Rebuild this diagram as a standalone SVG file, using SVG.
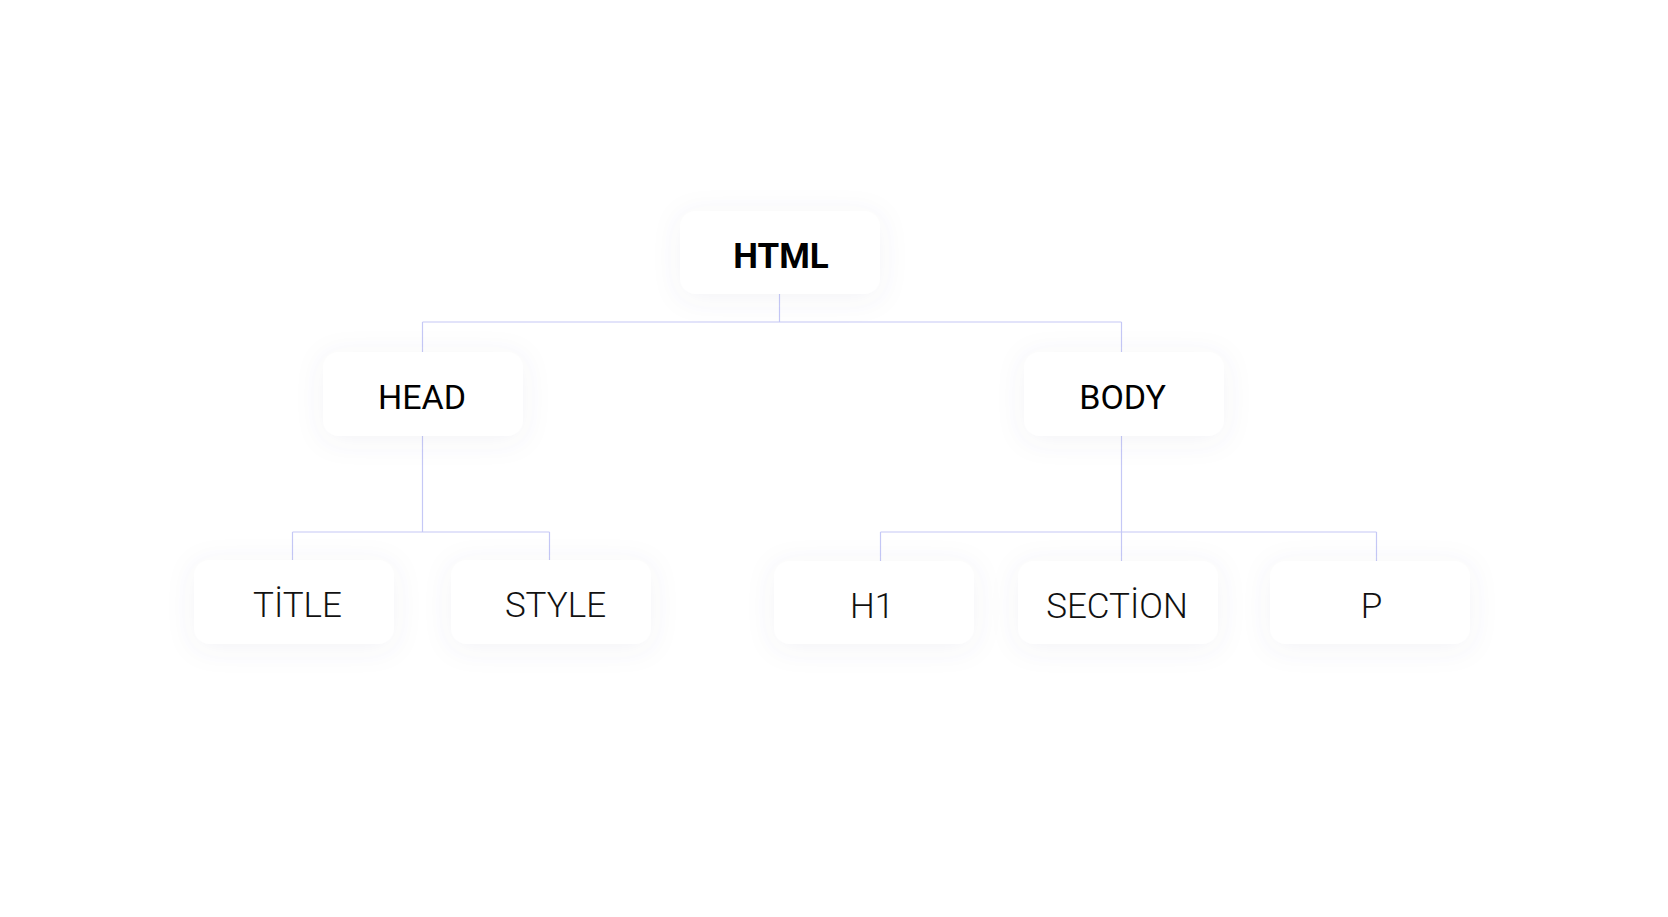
<svg xmlns="http://www.w3.org/2000/svg" width="1668" height="917" viewBox="0 0 1668 917">
<style>
.box{fill:#ffffff;filter:url(#sh);}
.lbl{font-family:Roboto,"Liberation Sans",sans-serif;fill:#000;text-anchor:middle;}
.b{font-weight:700;font-size:35px;}
.r{font-weight:400;font-size:34px;}
.l{font-family:"Roboto Light",Roboto,"Liberation Sans",sans-serif;font-weight:300;font-size:35px;fill:#111;}
.con{stroke:#c5c8f6;stroke-width:1.2;fill:none;}
</style>
<defs>
<filter id="sh" x="-30%" y="-40%" width="160%" height="180%">
<feDropShadow dx="0" dy="4" stdDeviation="14" flood-color="#5a6080" flood-opacity="0.07"/>
</filter>
</defs>
<rect width="1668" height="917" fill="#ffffff"/>
<g id="connectors">
<path class="con" d="M779.5 294 V322 M422.5 322 H1121.5 M422.5 322 V352 M1121.5 322 V352"/>
<path class="con" d="M422.5 436 V532 M292.5 532 H549.5 M292.5 532 V560 M549.5 532 V560"/>
<path class="con" d="M1121.5 436 V561 M880.5 532 H1376.5 M880.5 532 V561 M1376.5 532 V561"/>
</g>
<g id="html"><rect class="box" x="680" y="211" width="200" height="83" rx="16"/><text class="lbl b" x="781" y="268">HTML</text></g>
<g id="head"><rect class="box" x="323" y="352" width="200" height="84" rx="16"/><text class="lbl r" x="422" y="409">HEAD</text></g>
<g id="body"><rect class="box" x="1024" y="352" width="200" height="84" rx="16"/><text class="lbl r" x="1122.5" y="409">BODY</text></g>
<g id="title"><rect class="box" x="194" y="560" width="200" height="84" rx="16"/><text class="lbl l" x="297.5" y="617">TİTLE</text></g>
<g id="style"><rect class="box" x="451" y="560" width="200" height="84" rx="16"/><text class="lbl l" x="555.5" y="617">STYLE</text></g>
<g id="h1"><rect class="box" x="774" y="561" width="200" height="83" rx="16"/><text class="lbl l" x="872" y="618">H1</text></g>
<g id="section"><rect class="box" x="1018" y="561" width="200" height="83" rx="16"/><text class="lbl l" x="1117" y="618">SECTİON</text></g>
<g id="p"><rect class="box" x="1270" y="561" width="200" height="83" rx="16"/><text class="lbl l" x="1371.5" y="618">P</text></g>
</svg>
